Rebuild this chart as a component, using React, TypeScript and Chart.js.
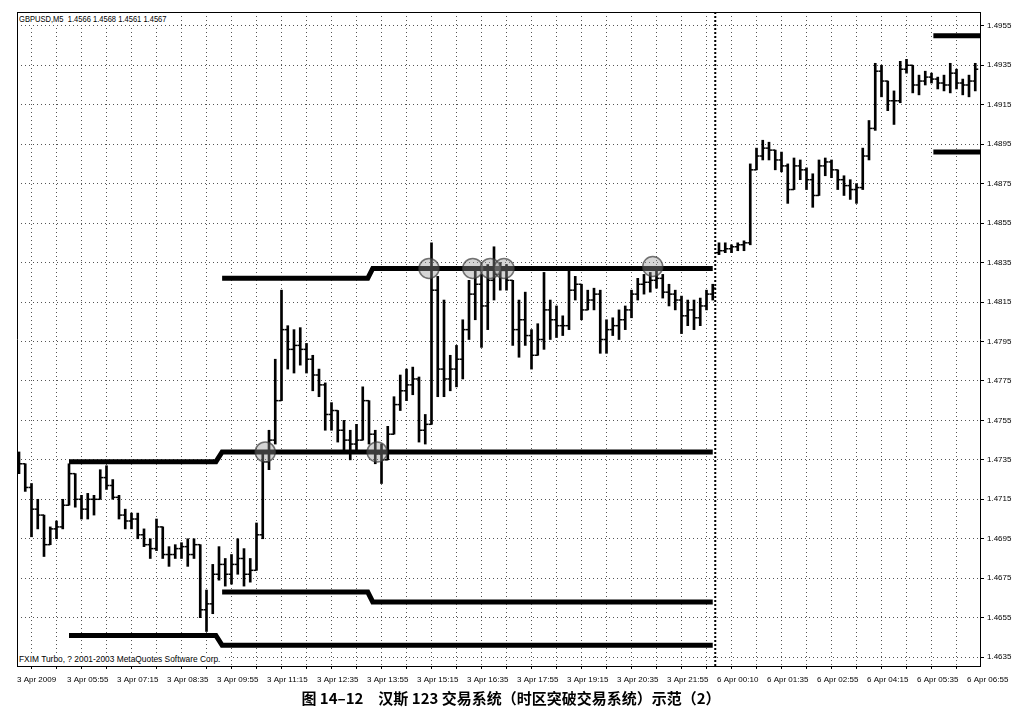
import React, { useEffect, useRef } from "react";
import { Chart, registerables } from "chart.js";

Chart.register(...registerables);

// ---- price bars (each bar, 10-minute steps) ----
const HIGH = [
  1.4739, 1.4733, 1.4723, 1.4715, 1.4707, 1.4701, 1.4704, 1.4715,
  1.4733, 1.4728, 1.4717, 1.4718, 1.4717, 1.4730, 1.4732, 1.4725,
  1.4717, 1.4710, 1.4708, 1.4708, 1.4700, 1.4695, 1.4705, 1.4701,
  1.4691, 1.4692, 1.4693, 1.4695, 1.4695, 1.4692, 1.4669, 1.4682,
  1.4691, 1.4685, 1.4687, 1.4695, 1.4690, 1.4685, 1.4703, 1.4738,
  1.4750, 1.4786, 1.4821, 1.4803, 1.4801, 1.4802, 1.4794, 1.4788,
  1.4781, 1.4774, 1.4764, 1.4760, 1.4755, 1.4750, 1.4753, 1.4772,
  1.4765, 1.4750, 1.4743, 1.4752, 1.4767, 1.4778, 1.4781, 1.4782,
  1.4777, 1.4758, 1.4845, 1.4828, 1.4816, 1.4788, 1.4793, 1.4806,
  1.4826, 1.4833, 1.4829, 1.4834, 1.4843, 1.4835, 1.4834, 1.4826,
  1.4816, 1.4820, 1.4801, 1.4804, 1.4830, 1.4816, 1.4813, 1.4808,
  1.4831, 1.4828, 1.4824, 1.4821, 1.4822, 1.4821, 1.4806, 1.4807,
  1.4811, 1.4813, 1.4821, 1.4827, 1.4829, 1.4830, 1.4832, 1.4829,
  1.4824, 1.4821, 1.4818, 1.4816, 1.4816, 1.4817, 1.4821, 1.4824,
  1.4845, 1.4845, 1.4844, 1.4845, 1.4846, 1.4885, 1.4893, 1.4897,
  1.4896, 1.4892, 1.4891, 1.4885, 1.4888, 1.4887, 1.4883, 1.4880,
  1.4887, 1.4888, 1.4887, 1.4882, 1.4879, 1.4877, 1.4875, 1.4893,
  1.4907, 1.4936, 1.4935, 1.4927, 1.4922, 1.4937, 1.4938, 1.4935,
  1.4930, 1.4932, 1.4931, 1.4929, 1.4930, 1.4936, 1.4933, 1.4928,
  1.4930, 1.4936,
];

const LOW = [
  1.4728, 1.4719, 1.4696, 1.4700, 1.4686, 1.4692, 1.4695, 1.4700,
  1.4712, 1.4711, 1.4705, 1.4705, 1.4707, 1.4715, 1.4720, 1.4715,
  1.4705, 1.4700, 1.4700, 1.4695, 1.4691, 1.4685, 1.4689, 1.4685,
  1.4681, 1.4685, 1.4685, 1.4681, 1.4685, 1.4655, 1.4648, 1.4657,
  1.4674, 1.4671, 1.4672, 1.4677, 1.4671, 1.4673, 1.4679, 1.4695,
  1.4730, 1.4743, 1.4765, 1.4781, 1.4779, 1.4783, 1.4779, 1.4770,
  1.4767, 1.4750, 1.4750, 1.4744, 1.4740, 1.4735, 1.4739, 1.4745,
  1.4743, 1.4733, 1.4723, 1.4735, 1.4748, 1.4760, 1.4765, 1.4768,
  1.4744, 1.4743, 1.4753, 1.4767, 1.4767, 1.4770, 1.4772, 1.4776,
  1.4796, 1.4806, 1.4792, 1.4801, 1.4816, 1.4821, 1.4821, 1.4793,
  1.4787, 1.4793, 1.4781, 1.4788, 1.4791, 1.4796, 1.4797, 1.4798,
  1.4801, 1.4816, 1.4806, 1.4811, 1.4811, 1.4789, 1.4789, 1.4798,
  1.4796, 1.4801, 1.4807, 1.4816, 1.4819, 1.4820, 1.4822, 1.4817,
  1.4813, 1.4811, 1.4799, 1.4803, 1.4801, 1.4803, 1.4811, 1.4816,
  1.4839, 1.4840, 1.4840, 1.4841, 1.4841, 1.4844, 1.4882, 1.4887,
  1.4887, 1.4882, 1.4881, 1.4865, 1.4872, 1.4877, 1.4872, 1.4863,
  1.4869, 1.4879, 1.4878, 1.4872, 1.4869, 1.4867, 1.4865, 1.4872,
  1.4887, 1.4902, 1.4919, 1.4912, 1.4905, 1.4916, 1.4931, 1.4921,
  1.4920, 1.4925, 1.4926, 1.4923, 1.4922, 1.4921, 1.4923, 1.4920,
  1.4919, 1.4922,
];

const OPEN = [
  1.4735, 1.4733, 1.4721, 1.4710, 1.4707, 1.4692, 1.4700, 1.4701,
  1.4712, 1.4728, 1.4715, 1.4710, 1.4715, 1.4715, 1.4726, 1.4722,
  1.4716, 1.4707, 1.4704, 1.4705, 1.4697, 1.4692, 1.4690, 1.4701,
  1.4687, 1.4687, 1.4690, 1.4691, 1.4687, 1.4692, 1.4659, 1.4662,
  1.4677, 1.4682, 1.4677, 1.4682, 1.4685, 1.4677, 1.4679, 1.4697,
  1.4734, 1.4745, 1.4765, 1.4801, 1.4791, 1.4793, 1.4791, 1.4786,
  1.4778, 1.4773, 1.4758, 1.4760, 1.4750, 1.4745, 1.4743, 1.4745,
  1.4765, 1.4748, 1.4738, 1.4735, 1.4748, 1.4763, 1.4770, 1.4773,
  1.4776, 1.4750, 1.4753, 1.4821, 1.4781, 1.4776, 1.4781, 1.4786,
  1.4801, 1.4819, 1.4824, 1.4813, 1.4826, 1.4829, 1.4831, 1.4826,
  1.4801, 1.4806, 1.4798, 1.4788, 1.4796, 1.4811, 1.4806, 1.4803,
  1.4803, 1.4821, 1.4824, 1.4811, 1.4816, 1.4819, 1.4796, 1.4801,
  1.4803, 1.4806, 1.4811, 1.4819, 1.4824, 1.4825, 1.4826, 1.4827,
  1.4820, 1.4819, 1.4816, 1.4808, 1.4811, 1.4807, 1.4813, 1.4819,
  1.4840, 1.4841, 1.4842, 1.4843, 1.4844, 1.4845, 1.4882, 1.4889,
  1.4893, 1.4892, 1.4887, 1.4884, 1.4872, 1.4884, 1.4882, 1.4877,
  1.4869, 1.4884, 1.4886, 1.4882, 1.4877, 1.4874, 1.4872, 1.4873,
  1.4889, 1.4903, 1.4932, 1.4927, 1.4917, 1.4917, 1.4933, 1.4935,
  1.4925, 1.4927, 1.4929, 1.4928, 1.4926, 1.4925, 1.4931, 1.4926,
  1.4925, 1.4927,
];

const CLOSE = [
  1.4733, 1.4721, 1.4710, 1.4707, 1.4692, 1.4700, 1.4701, 1.4712,
  1.4728, 1.4715, 1.4710, 1.4715, 1.4715, 1.4726, 1.4722, 1.4716,
  1.4707, 1.4704, 1.4705, 1.4697, 1.4692, 1.4690, 1.4701, 1.4687,
  1.4687, 1.4690, 1.4691, 1.4687, 1.4692, 1.4659, 1.4662, 1.4677,
  1.4682, 1.4677, 1.4682, 1.4685, 1.4677, 1.4679, 1.4697, 1.4734,
  1.4745, 1.4765, 1.4801, 1.4791, 1.4793, 1.4791, 1.4786, 1.4778,
  1.4773, 1.4758, 1.4760, 1.4750, 1.4745, 1.4743, 1.4745, 1.4765,
  1.4748, 1.4738, 1.4735, 1.4748, 1.4763, 1.4770, 1.4773, 1.4776,
  1.4750, 1.4753, 1.4821, 1.4781, 1.4776, 1.4781, 1.4786, 1.4801,
  1.4819, 1.4824, 1.4813, 1.4826, 1.4829, 1.4831, 1.4826, 1.4801,
  1.4806, 1.4798, 1.4788, 1.4796, 1.4811, 1.4806, 1.4803, 1.4803,
  1.4821, 1.4824, 1.4811, 1.4816, 1.4819, 1.4796, 1.4801, 1.4803,
  1.4806, 1.4811, 1.4819, 1.4824, 1.4825, 1.4826, 1.4827, 1.4820,
  1.4819, 1.4816, 1.4808, 1.4811, 1.4807, 1.4813, 1.4819, 1.4822,
  1.4841, 1.4842, 1.4843, 1.4844, 1.4845, 1.4882, 1.4889, 1.4893,
  1.4892, 1.4887, 1.4884, 1.4872, 1.4884, 1.4882, 1.4877, 1.4869,
  1.4884, 1.4886, 1.4882, 1.4877, 1.4874, 1.4872, 1.4873, 1.4889,
  1.4903, 1.4932, 1.4927, 1.4917, 1.4917, 1.4933, 1.4935, 1.4925,
  1.4927, 1.4929, 1.4928, 1.4926, 1.4925, 1.4931, 1.4926, 1.4925,
  1.4927, 1.4933,
];

// ---- axis labels ----
const X_LABELS = [
  "3 Apr 2009", "3 Apr 05:55", "3 Apr 07:15", "3 Apr 08:35", "3 Apr 09:55",
  "3 Apr 11:15", "3 Apr 12:35", "3 Apr 13:55", "3 Apr 15:15", "3 Apr 16:35",
  "3 Apr 17:55", "3 Apr 19:15", "3 Apr 20:35", "3 Apr 21:55", "6 Apr 00:10",
  "6 Apr 01:35", "6 Apr 02:55", "6 Apr 04:15", "6 Apr 05:35", "6 Apr 06:55",
];
const BARS_PER_LABEL = 8;
const BARS_PER_GRID = 4;
const Y_TICKS = [
  1.4635, 1.4655, 1.4675, 1.4695, 1.4715, 1.4735, 1.4755, 1.4775, 1.4795,
  1.4815, 1.4835, 1.4855, 1.4875, 1.4895, 1.4915, 1.4935, 1.4955,
];
const Y_MIN = 1.46305;
const Y_MAX = 1.4962;
const X_MIN = -0.32;
const X_MAX = 153.76;

// ---- range-breakout levels: [bar index, price] ----
const BOX1_TOP = [[8, 1.4734], [31.5, 1.4734], [32.5, 1.4739], [111, 1.4739]];
const BOX1_BOTTOM = [[8, 1.4646], [31.5, 1.4646], [32.5, 1.4641], [111, 1.4641]];
const BOX2_TOP = [[32.5, 1.4827], [55.8, 1.4827], [56.6, 1.4832], [111, 1.4832]];
const BOX2_BOTTOM = [[32.5, 1.4668], [55.8, 1.4668], [56.6, 1.4663], [111, 1.4663]];
const NEW_TOP = [[146.3, 1.495], [153.76, 1.495]];
const NEW_BOTTOM = [[146.3, 1.4891], [153.76, 1.4891]];
const SIGNALS = [
  [39.4, 1.4739], [57.3, 1.4739], [65.6, 1.4832], [72.6, 1.4832],
  [75.4, 1.4832], [77.6, 1.4832], [101.4, 1.4833],
];
const DAY_SEPARATOR = 111.4;

const HEADER = "GBPUSD,M5  1.4566 1.4568 1.4561 1.4567";
const FOOTER = "FXIM Turbo, ? 2001-2003 MetaQuotes Software Corp.";
const CAPTION = "图 14–12\u3000汉斯 123 交易系统（时区突破交易系统）示范（2）";

const SANS = "'Liberation Sans', Arial, sans-serif";

function level(pts: number[][]) {
  return {
    type: "line" as const,
    data: pts.map(([x, y]) => ({ x, y })),
    borderColor: "#000",
    borderWidth: 5,
    pointRadius: 0,
    borderCapStyle: "butt" as const,
    tension: 0,
    fill: false,
    order: 1,
  };
}

const textBox: React.CSSProperties = {
  position: "absolute",
  left: 19,
  fontFamily: SANS,
  fontSize: 9,
  lineHeight: "11px",
  background: "#fff",
  paddingRight: 3,
  color: "#000",
  whiteSpace: "pre",
  transformOrigin: "left center",
};

export default function App() {
  const ref = useRef<HTMLCanvasElement | null>(null);

  useEffect(() => {
    if (!ref.current) return;
    const gridTicks: { value: number }[] = [];
    for (let v = 0; v <= HIGH.length - 1; v += BARS_PER_GRID) gridTicks.push({ value: v });

    const chart = new Chart(ref.current, {
      type: "bar",
      data: {
        datasets: [
          {
            type: "line",
            data: SIGNALS.map(([x, y]) => ({ x, y })),
            showLine: false,
            pointRadius: 10,
            pointBackgroundColor: "rgba(150,150,150,0.4)",
            pointBorderColor: "rgba(60,60,60,0.7)",
            pointBorderWidth: 1.5,
            order: 0,
          } as any,
          level(BOX1_TOP),
          level(BOX1_BOTTOM),
          level(BOX2_TOP),
          level(BOX2_BOTTOM),
          level(NEW_TOP),
          level(NEW_BOTTOM),
          {
            type: "line",
            data: [
              { x: DAY_SEPARATOR, y: Y_MIN },
              { x: DAY_SEPARATOR, y: Y_MAX },
            ],
            borderColor: "#000",
            borderWidth: 2,
            borderDash: [2, 2],
            pointRadius: 0,
            order: 3,
          } as any,
          {
            type: "bar",
            data: HIGH.map((h, i) => ({ x: i, y: [LOW[i], h] })),
            backgroundColor: "#000",
            borderWidth: 0,
            barThickness: 2,
            grouped: false,
            order: 2,
          } as any,
          {
            type: "line",
            data: OPEN.map((o, i) => ({ x: i - 0.24, y: o })),
            showLine: false,
            pointStyle: "line",
            pointRadius: 1.5,
            pointBorderWidth: 1.5,
            pointBorderColor: "#000",
            borderColor: "#000",
            order: 2,
          } as any,
          {
            type: "line",
            data: CLOSE.map((c, i) => ({ x: i + 0.24, y: c })),
            showLine: false,
            pointStyle: "line",
            pointRadius: 1.5,
            pointBorderWidth: 1.5,
            pointBorderColor: "#000",
            borderColor: "#000",
            order: 2,
          } as any,
        ],
      },
      options: {
        animation: false,
        responsive: false,
        maintainAspectRatio: false,
        events: [],
        layout: { padding: { left: 17, top: 12, right: 0, bottom: 0 } },
        plugins: { legend: { display: false }, tooltip: { enabled: false } },
        scales: {
          x: {
            type: "linear",
            position: "bottom",
            min: X_MIN,
            max: X_MAX,
            offset: false,
            afterBuildTicks: (s: any) => {
              s.ticks = gridTicks.map((t) => ({ ...t }));
            },
            afterFit: (s: any) => {
              s.height = 24;
            },
            ticks: {
              autoSkip: false,
              maxRotation: 0,
              minRotation: 0,
              align: "start",
              labelOffset: -2,
              padding: 6,
              color: "#000",
              font: { family: SANS, size: 8 },
              callback: (v: any) =>
                Number(v) % BARS_PER_LABEL === 0 ? X_LABELS[Number(v) / BARS_PER_LABEL] ?? "" : "",
            },
            grid: { color: "#555", lineWidth: 1, tickLength: 3, tickColor: "#000" },
            border: { display: true, color: "#000", width: 1, dash: [1, 3] },
          },
          xTop: {
            type: "linear",
            position: "top",
            min: 0,
            max: 1,
            ticks: { display: false },
            grid: { display: false },
            afterFit: (s: any) => {
              s.height = 0;
            },
            border: { display: true, color: "#000", width: 1 },
          },
          y: {
            type: "linear",
            position: "right",
            min: Y_MIN,
            max: Y_MAX,
            afterBuildTicks: (s: any) => {
              s.ticks = Y_TICKS.map((value) => ({ value }));
            },
            afterFit: (s: any) => {
              s.width = 42;
            },
            ticks: {
              color: "#000",
              padding: 3,
              font: { family: SANS, size: 8 },
              callback: (v: any) => Number(v).toFixed(4),
            },
            grid: { color: "#555", lineWidth: 1, tickLength: 4, tickColor: "#000" },
            border: { display: true, color: "#000", width: 1, dash: [1, 3] },
          },
          yLeft: {
            type: "linear",
            position: "left",
            min: 0,
            max: 1,
            ticks: { display: false },
            grid: { display: false },
            afterFit: (s: any) => {
              s.width = 0;
            },
            border: { display: true, color: "#000", width: 1 },
          },
        },
      } as any,
    });
    return () => chart.destroy();
  }, []);

  return (
    <div
      style={{
        position: "absolute",
        left: 0,
        top: 0,
        width: 1022,
        height: 720,
        background: "#fff",
        overflow: "hidden",
      }}
    >
      <canvas ref={ref} width={1022} height={690} style={{ display: "block" }} />
      <div style={{ ...textBox, top: 14, transform: "scaleX(0.84)" }}>{HEADER}</div>
      <div style={{ ...textBox, top: 654, transform: "scaleX(0.93)" }}>{FOOTER}</div>
      <div
        style={{
          position: "absolute",
          left: 0,
          top: 687,
          width: 1022,
          textAlign: "center",
          fontFamily: "'Noto Sans CJK SC', sans-serif",
          fontWeight: 700,
          fontSize: 15,
          lineHeight: "22px",
          color: "#000",
          whiteSpace: "pre",
        }}
      >
        {CAPTION}
      </div>
    </div>
  );
}
